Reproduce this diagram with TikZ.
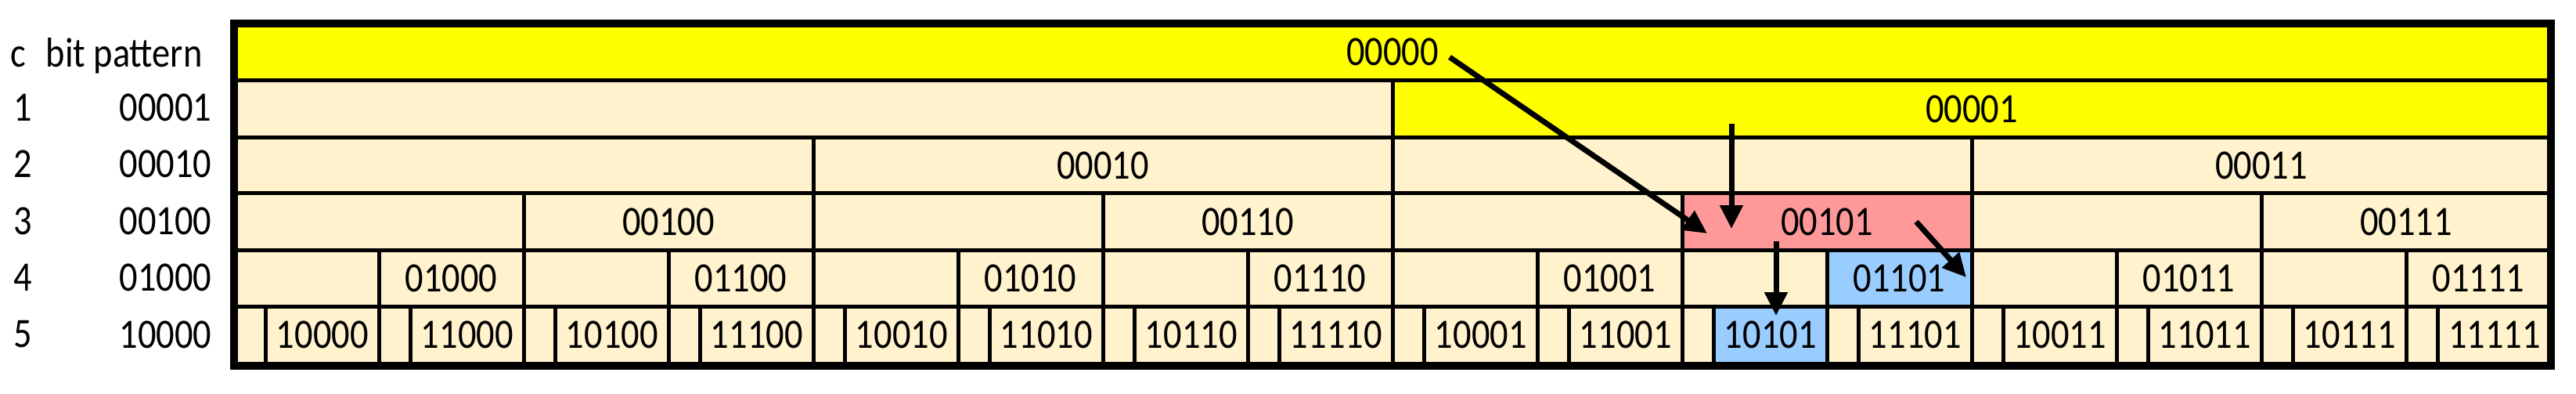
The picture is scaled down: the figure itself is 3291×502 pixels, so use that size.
\documentclass[tikz,border=0pt]{standalone}
\usepackage{fontspec}
\setmainfont{Carlito}[FakeStretch=0.87]
\usetikzlibrary{arrows.meta}
\definecolor{cyel}{HTML}{FFFF00}
\definecolor{cbei}{HTML}{FFF2CC}
\definecolor{cred}{HTML}{FF9999}
\definecolor{cblu}{HTML}{99CCFF}
\begin{document}
\begin{tikzpicture}[x=0.3pt,y=-0.3pt,
  gridline/.style={line width=1.5pt, black},
  frameline/.style={line width=3pt, black},
  lab/.style={font=\fontsize{16}{19}\selectfont, inner sep=0pt},
  arr/.style={line width=2.1pt, -{Triangle[length=9pt,width=8.5pt]}}]
\useasboundingbox (0,0) rectangle (3291,502);
\fill[white] (0,0) rectangle (3291,502);
% fills
\fill[cbei] (299,30) rectangle (3259,466.5);
\fill[cyel] (299,30) rectangle (3259,102.7);
\fill[cyel] (1779,102.7) rectangle (3259,175);
\fill[cred] (2149,246.7) rectangle (2519,319);
\fill[cblu] (2334,319) rectangle (2519,391);
\fill[cblu] (2189.5,391) rectangle (2334,466.5);
% horizontal lines
\foreach \y in {102.7,175,246.7,319,391}
  \draw[gridline] (299,\y) -- (3259,\y);
% vertical lines
\draw[gridline] (1779,102.7) -- (1779,175);
\foreach \k in {1,2,3}
  \draw[gridline] ({299+740*\k},175) -- ({299+740*\k},246.7);
\foreach \k in {1,...,7}
  \draw[gridline] ({299+370*\k},246.7) -- ({299+370*\k},319);
\foreach \k in {1,...,15}
  \draw[gridline] ({299+185*\k},319) -- ({299+185*\k},391);
\foreach \k in {1,...,15}
  \draw[gridline] ({299+185*\k},391) -- ({299+185*\k},466.5);
\foreach \k in {0,...,15}
  \draw[gridline] ({339.5+185*\k},391) -- ({339.5+185*\k},466.5);
% frame
\draw[frameline] (299,30) rectangle (3259,466.5);
% labels in the table
\node[lab] (n00000) at (1779,66.4) {00000};
\node[lab] (n00001) at (2519,138.9) {00001};
\foreach \lbl [count=\i from 0] in {00010,00011}
  \node[lab] (n\lbl) at ({299+740*(2*\i+1)+370},210.9) {\lbl};
\foreach \lbl [count=\i from 0] in {00100,00110,00101,00111}
  \node[lab] (n\lbl) at ({299+370*(2*\i+1)+185},282.9) {\lbl};
\foreach \lbl [count=\i from 0] in {01000,01100,01010,01110,01001,01101,01011,01111}
  \node[lab] (n\lbl) at ({299+185*(2*\i+1)+92.5},355) {\lbl};
\foreach \lbl [count=\i from 0] in {10000,11000,10100,11100,10010,11010,10110,11110,10001,11001,10101,11101,10011,11011,10111,11111}
  \node[lab] (n\lbl) at ({411.75+185*\i},427) {\lbl};
% left column
\node[lab, anchor=base] (hc) at (23.5,85) {c};
\node[lab, anchor=base west] (hbp) at (58,85) {bit pattern};
\foreach \c/\p in {1/00001,2/00010,3/00100,4/01000,5/10000}{
  \node[lab] (c\c) at (29,{64.4+72.5*\c}) {\c};
  \node[lab, anchor=east] (p\c) at (271,{64.4+72.5*\c}) {\p};
}
% arrows
\coordinate (a1s) at (1852,73);
\coordinate (a1e) at (2181,298);
\coordinate (a2s) at (2212,158);
\coordinate (a2e) at (2212,292);
\coordinate (a3s) at (2269,308);
\coordinate (a3e) at (2269,403);
\coordinate (a4s) at (2448,283);
\coordinate (a4e) at (2512,354);
\draw[arr] (a1s) -- (a1e);
\draw[arr] (a2s) -- (a2e);
\draw[arr] (a3s) -- (a3e);
\draw[arr] (a4s) -- (a4e);
\end{tikzpicture}
\end{document}
